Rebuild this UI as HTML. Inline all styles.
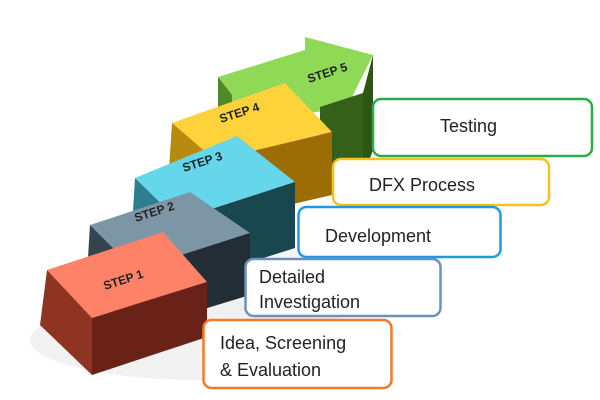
<!DOCTYPE html>
<html><head><meta charset="utf-8"><style>
html,body{margin:0;padding:0;background:#fff;}
svg{display:block}
text{font-family:"Liberation Sans",sans-serif;}
</style></head><body>
<svg width="600" height="400" viewBox="0 0 600 400" xmlns="http://www.w3.org/2000/svg">
<!-- shadow swirl area -->
<ellipse cx="200" cy="340" rx="170" ry="40" fill="#ececec" opacity="0.7"/>
<ellipse cx="280" cy="280" rx="120" ry="40" fill="#efefef" opacity="0.6"/>

<!-- STEP 5 green arrow -->
<g>
<polygon points="218,77 305,50 305,37 373,55 348,105 330,110 230,125 218,125" fill="#8fd957"/>
<polygon points="218,77 232,95 232,135 218,125" fill="#4f8a25"/>
<polygon points="320,107 363,93 363,178 320,185" fill="#35601a"/>
<polygon points="363,93 373,55 373,150 363,178" fill="#2f5515"/>
</g>
<!-- STEP 4 yellow -->
<g>
<polygon points="172,123 285,83 332,132 215,160" fill="#fdd23b"/>
<polygon points="215,160 332,132 332,195 215,222" fill="#9d6d05"/>
<polygon points="172,123 215,160 215,222 168,185" fill="#b98a10"/>
</g>
<!-- STEP 3 cyan -->
<g>
<polygon points="135,178 237,136 295,182 178,220" fill="#66d6ea"/>
<polygon points="178,220 295,182 295,248 178,285" fill="#18474f"/>
<polygon points="135,178 178,220 178,285 131,245" fill="#2b7f8e"/>
</g>
<!-- STEP 2 slate -->
<g>
<polygon points="90,225 190,192 250,233 135,270" fill="#7d96a5"/>
<polygon points="135,270 250,233 250,295 135,330" fill="#222d35"/>
<polygon points="90,225 135,270 135,330 86,290" fill="#34444e"/>
</g>
<!-- STEP 1 red -->
<g>
<polygon points="47,270 163,232 207,282 92,318" fill="#fd8268"/>
<polygon points="92,318 207,282 207,337 92,375" fill="#6a2118"/>
<polygon points="47,270 92,318 92,375 40,325" fill="#8f3323"/>
</g>

<g font-weight="bold" font-size="12" fill="#222">
<text x="0" y="0" transform="translate(105,290) rotate(-18)">STEP 1</text>
<text x="0" y="0" transform="translate(136,222) rotate(-18)">STEP 2</text>
<text x="0" y="0" transform="translate(184,172) rotate(-18)">STEP 3</text>
<text x="0" y="0" transform="translate(221,123) rotate(-18)">STEP 4</text>
<text x="0" y="0" transform="translate(309,83) rotate(-18)">STEP 5</text>
</g>

<g fill="#fff" stroke-width="2.5">
<rect x="373" y="99" width="219" height="57" rx="8" stroke="#2bab4a"/>
<rect x="333" y="159" width="216" height="46" rx="8" stroke="#f5c21b"/>
<rect x="298.5" y="207" width="202" height="50" rx="8" stroke="#1e9be0"/>
<rect x="245.5" y="259" width="195" height="57" rx="8" stroke="#6d8fc2"/>
<rect x="203.5" y="320" width="188" height="68" rx="8" stroke="#f07a2a"/>
</g>
<g font-size="18" fill="#222">
<text x="440" y="132">Testing</text>
<text x="369" y="191">DFX Process</text>
<text x="325" y="242">Development</text>
<text x="259" y="283">Detailed</text>
<text x="259" y="308">Investigation</text>
<text x="220" y="349">Idea, Screening</text>
<text x="220" y="376">&amp; Evaluation</text>
</g>
</svg>
</body></html>
